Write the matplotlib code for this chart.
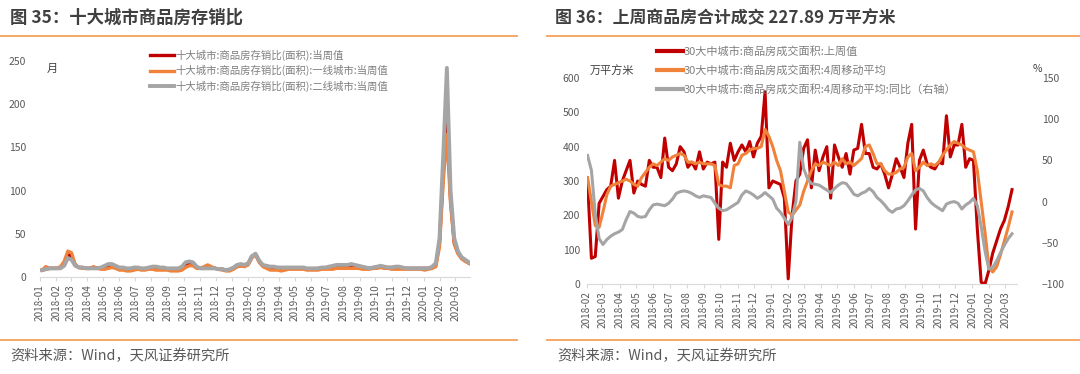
import matplotlib
matplotlib.use('Agg')
import matplotlib.pyplot as plt
import matplotlib.dates as mdates
import pandas as pd
from matplotlib.lines import Line2D

plt.rcParams['font.family'] = ['Noto Sans CJK SC', 'DejaVu Sans']

# ---- data: fig 35, weekly inventory / sales ratio (months)
dates_left = pd.date_range('2018-01-05', periods=117, freq='7D')
ratio_all = [8, 9, 10, 10, 10, 11, 15, 26, 24, 14, 11, 11, 10, 10,
             11, 10, 10, 11, 12, 12, 11, 10, 10, 9, 9, 10, 10, 9, 9,
             10, 10, 10, 10, 9, 9, 9, 8, 8, 10, 15, 16, 15, 11,
             10, 10, 11, 11, 10, 9, 9, 8, 8, 10, 12, 13, 13, 15, 24, 26, 18,
             13, 12, 11, 11, 10, 10, 10, 10, 10, 10, 10, 10, 9, 9, 9, 10, 10, 10,
             11, 11, 12, 12, 12, 12, 12, 12, 11, 11, 10, 10, 11, 11, 12, 11, 11, 11,
             11, 11, 10, 10, 10, 10, 10, 10, 10,
             10, 11, 14, 40, 120, 190, 90, 40, 28, 22, 19, 16]
ratio_tier1 = [8, 12, 10, 10, 10, 12, 18, 30, 28, 14, 11, 10, 10, 10,
               12, 10, 9, 9, 10, 11, 10, 8, 8, 7, 7, 8, 9, 8, 8,
               9, 9, 8, 8, 8, 8, 7, 7, 7, 8, 11, 13, 13, 10,
               10, 12, 14, 12, 10, 9, 8, 7, 7, 9, 12, 13, 12, 14, 22, 26, 17,
               12, 10, 8, 8, 8, 7, 8, 9, 9, 9, 9, 9, 8, 8, 8, 8, 9, 9,
               9, 9, 10, 10, 10, 10, 10, 10, 10, 9, 9, 9, 10, 10, 11, 10, 10, 9,
               9, 9, 9, 9, 9, 9, 9, 9, 8,
               9, 10, 12, 35, 110, 165, 85, 38, 27, 21, 18, 16]
ratio_tier2 = [8, 9, 10, 10, 10, 10, 13, 22, 20, 13, 11, 11, 10, 10,
               10, 10, 11, 13, 15, 15, 13, 11, 11, 10, 10, 11, 11, 10, 10,
               11, 12, 12, 11, 11, 10, 10, 10, 10, 12, 17, 18, 17, 12,
               10, 10, 10, 10, 10, 9, 9, 8, 9, 11, 14, 15, 14, 16, 24, 27, 19,
               14, 13, 12, 12, 11, 11, 11, 11, 11, 11, 11, 11, 10, 10, 10, 10, 11, 11,
               12, 13, 14, 14, 14, 14, 15, 14, 13, 12, 11, 10, 11, 12, 13, 12, 11, 11,
               12, 12, 11, 10, 10, 10, 10, 10, 10,
               10, 12, 16, 45, 140, 242, 100, 45, 30, 23, 20, 17]
left_labels = ['十大城市:商品房存销比(面积):当周值',
               '十大城市:商品房存销比(面积):一线城市:当周值',
               '十大城市:商品房存销比(面积):二线城市:当周值']

# ---- data: fig 36, 30 cities weekly transaction area (10k m2) and yoy (%)
dates_right = pd.date_range('2018-02-02', periods=111, freq='7D')
area_week = [300, 75, 80, 235, 255, 275, 285, 360, 250, 300,
             330, 360, 265, 300, 290, 285, 360, 340, 340, 310,
             425, 340, 330, 350, 400, 385, 340, 355, 335, 385,
             335, 355, 350, 355, 130, 355, 340, 410, 360, 385,
             405, 385, 415, 370, 410, 430, 560, 280, 300, 295,
             290, 250, 15, 200, 300, 320, 395, 420, 280, 390,
             330, 370, 400, 250, 405, 370, 340, 380, 320, 390,
             395, 465, 380, 380, 340, 335, 350, 320, 280, 320,
             365, 340, 310, 410, 465, 160, 360, 390, 350, 340,
             335, 355, 350, 490, 370, 405, 405, 465, 340, 365,
             360, 160, 5, 0, 40, 90, 125, 160, 185, 225,
             275]
area_ma4 = [310, 240, 170, 165, 210, 260, 285, 290, 295, 300,
            305, 300, 290, 285, 310, 325, 340, 350, 345, 355,
            365, 360, 370, 375, 380, 375, 355, 355, 350, 355,
            350, 350, 350, 345, 290, 285, 285, 280, 345, 350,
            375, 380, 390, 395, 395, 400, 450, 430, 400, 360,
            330, 270, 210, 200, 215, 230, 270, 300, 330, 350,
            345, 355, 350, 345, 355, 345, 365, 350, 355, 345,
            355, 365, 400, 405, 380, 350, 350, 330, 320, 320,
            325, 335, 340, 370, 380, 330, 340, 355, 345, 350,
            345, 355, 375, 390, 405, 415, 410, 405, 395, 390,
            385, 330, 240, 150, 50, 35, 50, 85, 125, 165,
            210]
area_yoy = [56, 38, -15, -45, -52, -46, -42, -39, -37, -34,
            -22, -12, -14, -18, -19, -18, -10, -4, -3, -4,
            -5, -2, 3, 10, 12, 13, 12, 10, 7, 5,
            7, 6, 5, -2, -8, -11, -10, -7, -4, -1,
            8, 13, 11, 8, 4, 7, 11, 7, 3, -8,
            -13, -20, -28, -19, 0, 72, 40, 28, 22, 21,
            20, 17, 14, 11, 16, 20, 23, 22, 16, 9,
            7, 10, 12, 16, 12, 5, 1, -4, -10, -13,
            -9, -8, -5, 1, 8, 14, 16, 13, 5, -1,
            -5, -8, -11, -3, -1, 0, -2, -9, -4, -1,
            4, -5, -30, -60, -82, -80, -72, -62, -53, -45,
            -39]
right_labels = ['30大中城市:商品房成交面积:上周值',
                '30大中城市:商品房成交面积:4周移动平均',
                '30大中城市:商品房成交面积:4周移动平均:同比（右轴）']

RED = '#C00000'
ORANGE = '#F0823A'
GREY = '#A5A5A5'
TXT = '#595959'
LINE = '#F59A4C'

W, H = 1080, 374
fig = plt.figure(figsize=(W / 100, H / 100), dpi=100)


def style_axis(ax):
    for s in ['top', 'right', 'left']:
        ax.spines[s].set_visible(False)
    ax.spines['bottom'].set_color('#D9D9D9')
    ax.xaxis.set_major_locator(mdates.MonthLocator())
    ax.xaxis.set_major_formatter(mdates.DateFormatter('%Y-%m'))
    ax.tick_params(axis='x', rotation=90, labelsize=7.2, labelcolor=TXT,
                   length=3, color='#D9D9D9', pad=2)
    ax.tick_params(axis='y', length=0, labelsize=7.5, labelcolor=TXT)


# left chart
ax1 = fig.add_axes([40 / W, 1 - 277 / H, 430 / W, 216 / H])
ax1.plot(dates_left, ratio_all, color=RED, lw=2.4, label=left_labels[0])
ax1.plot(dates_left, ratio_tier1, color=ORANGE, lw=2.4, label=left_labels[1])
ax1.plot(dates_left, ratio_tier2, color=GREY, lw=2.8, label=left_labels[2])
ax1.set_ylim(0, 250)
ax1.set_yticks([0, 50, 100, 150, 200, 250])
ax1.set_xlim(pd.Timestamp('2018-01-01'), pd.Timestamp('2020-03-29'))
style_axis(ax1)
ax1.tick_params(axis='y', pad=10)
fig.text(52 / W, 1 - 69 / H, '月', fontsize=8, color='#404040', ha='center', va='center')
ax1.legend(loc='upper left', bbox_to_anchor=(150 / W, 1 - 50 / H), bbox_transform=fig.transFigure,
           frameon=False, fontsize=7.5, labelcolor='#7F7F7F', handlelength=2.3,
           handletextpad=0.1, labelspacing=0.38, borderpad=0, borderaxespad=0)

# right chart
ax2 = fig.add_axes([587 / W, 1 - 284 / H, 430 / W, 206 / H])
ax2.plot(dates_right, area_week, color=RED, lw=2.2)
ax2.plot(dates_right, area_ma4, color=ORANGE, lw=2.2)
ax2.set_ylim(0, 600)
ax2.set_xlim(pd.Timestamp('2018-02-01'), pd.Timestamp('2020-03-22'))
style_axis(ax2)
ax2.tick_params(axis='y', pad=5)
ax3 = ax2.twinx()
ax3.plot(dates_right, area_yoy, color=GREY, lw=2.2)
ax3.set_ylim(-100, 150)
ax3.set_yticks([-100, -50, 0, 50, 100, 150])
for s in ['top', 'right', 'left', 'bottom']:
    ax3.spines[s].set_visible(False)
ax3.tick_params(axis='y', length=0, labelsize=7.5, labelcolor=TXT, pad=18)
fig.text(612 / W, 1 - 70 / H, '万平方米', fontsize=8, color='#404040', ha='center', va='center')
fig.text(1037 / W, 1 - 69 / H, '%', fontsize=7.5, color='#404040', ha='center', va='center')
handles = [Line2D([], [], color=c, lw=3) for c in (RED, ORANGE, GREY)]
ax2.legend(handles, right_labels, loc='upper left', bbox_to_anchor=(657 / W, 1 - 46 / H),
           bbox_transform=fig.transFigure, frameon=False, fontsize=8, labelcolor='#7F7F7F',
           handlelength=2.3, handletextpad=0.1, labelspacing=0.75, borderpad=0, borderaxespad=0)

# titles, separators, sources
fig.text(10 / W, 1 - 18 / H, '图 35：十大城市商品房存销比', fontsize=12.5, fontweight='bold',
         color='#404040', va='center')
fig.text(555 / W, 1 - 18 / H, '图 36：上周商品房合计成交 227.89 万平方米', fontsize=12.2,
         fontweight='bold', color='#404040', va='center')
for x0, x1 in ((0, 517), (547, 1080)):
    fig.add_artist(Line2D([x0 / W, x1 / W], [1 - 36 / H] * 2, color=LINE, lw=1.2))
    fig.add_artist(Line2D([x0 / W, x1 / W], [1 - 340 / H] * 2, color=LINE, lw=1.2))
fig.text(10 / W, 1 - 356 / H, '资料来源：Wind，天风证券研究所', fontsize=10.3, color=TXT, va='center')
fig.text(557 / W, 1 - 356 / H, '资料来源：Wind，天风证券研究所', fontsize=10.3, color=TXT, va='center')

fig.savefig('out.png', dpi=100)
